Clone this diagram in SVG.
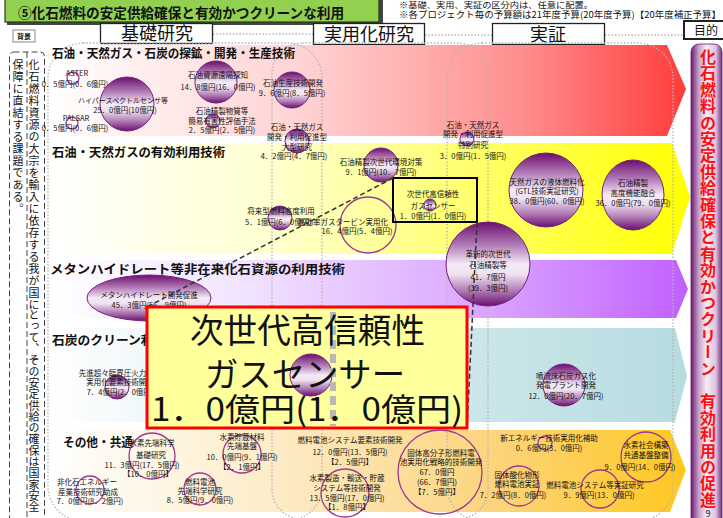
<svg xmlns="http://www.w3.org/2000/svg" width="723" height="518" viewBox="0 0 723 518">
<defs>
<style>
text{font-family:"Noto Sans CJK JP","Noto Sans",sans-serif;fill:#111}
.t{font-size:7.5px;text-anchor:middle}
.ts{font-size:7.5px}
.h{font-size:12.5px;font-weight:700}
.hd{font-size:18px;text-anchor:middle}
.b{fill:url(#gB);stroke:#74207a;stroke-width:1}
.o{fill:none;stroke:#9a3a90;stroke-width:1.3}
.reg{fill:none;stroke:#b4b4b4;stroke-width:1.3;stroke-dasharray:1.5 1.8}
.hbox{fill:#fff;stroke:#222;stroke-width:1.3}
.v{writing-mode:vertical-rl;font-size:11px}
</style>
<linearGradient id="gRed" x1="0" y1="0" x2="1" y2="0"><stop offset="0" stop-color="#ffffff"/><stop offset="0.4" stop-color="#ffd2d2"/><stop offset="0.75" stop-color="#ff8c8c"/><stop offset="1" stop-color="#ff3c3c"/></linearGradient>
<linearGradient id="gYel" x1="0" y1="0" x2="1" y2="0"><stop offset="0" stop-color="#ffffff"/><stop offset="0.35" stop-color="#ffffd0"/><stop offset="0.65" stop-color="#ffff70"/><stop offset="1" stop-color="#ffff00"/></linearGradient>
<linearGradient id="gPur" x1="0" y1="0" x2="1" y2="0"><stop offset="0" stop-color="#ffffff"/><stop offset="0.3" stop-color="#f2e4ff"/><stop offset="0.7" stop-color="#d9a2ff"/><stop offset="1" stop-color="#c060ff"/></linearGradient>
<linearGradient id="gCya" x1="0" y1="0" x2="1" y2="0"><stop offset="0" stop-color="#ffffff"/><stop offset="0.3" stop-color="#e3f1f3"/><stop offset="1" stop-color="#b6dce0"/></linearGradient>
<linearGradient id="gOra" x1="0" y1="0" x2="1" y2="0"><stop offset="0" stop-color="#ffffff"/><stop offset="0.35" stop-color="#fdecc8"/><stop offset="0.7" stop-color="#fcd47c"/><stop offset="1" stop-color="#ffc81e"/></linearGradient>
<linearGradient id="gB" x1="0" y1="0" x2="0" y2="1"><stop offset="0" stop-color="#6a0f6e"/><stop offset="0.28" stop-color="#b47eb8"/><stop offset="0.5" stop-color="#f4eaf5"/><stop offset="0.62" stop-color="#efe2f0"/><stop offset="0.82" stop-color="#b07ab4"/><stop offset="1" stop-color="#6a0f6e"/></linearGradient>
<linearGradient id="gBar" x1="0" y1="0" x2="1" y2="0"><stop offset="0" stop-color="#6a1b6e"/><stop offset="0.25" stop-color="#c8a0cc"/><stop offset="0.5" stop-color="#f5ecf6"/><stop offset="0.8" stop-color="#dcc3de"/><stop offset="1" stop-color="#7a2a7e"/></linearGradient>
</defs>
<rect width="723" height="518" fill="#fff"/>

<g id="banner">
<rect x="7" y="-5" width="376" height="30" fill="#444"/>
<rect x="5" y="-5" width="374" height="27" fill="#92d050" stroke="#2b3a1a" stroke-width="1.2"/>
<text x="18" y="17.5" style="font-size:14px;font-weight:700" textLength="326" lengthAdjust="spacingAndGlyphs">⑤化石燃料の安定供給確保と有効かつクリーンな利用</text>
</g>
<g id="notes">
<text x="399" y="7.5" style="font-size:8.5px" textLength="194" lengthAdjust="spacingAndGlyphs">※基礎、実用、実証の区分内は、任意に配置。</text>
<text x="399" y="18" style="font-size:9px" textLength="322" lengthAdjust="spacingAndGlyphs">※各プロジェクト毎の予算額は21年度予算(20年度予算)【20年度補正予算】</text>
</g>

<g id="headers">
<line x1="213" y1="34" x2="313" y2="34" class="reg"/>
<line x1="425" y1="35" x2="492" y2="35" class="reg"/>
<line x1="605" y1="35" x2="683" y2="35" class="reg"/>
<g id="h-haikei"><rect x="13" y="30" width="22" height="12" fill="#fff" stroke="#666" stroke-width="0.8"/><text x="24" y="38.5" style="font-size:7px;font-weight:700;text-anchor:middle">背景</text></g>
<g id="h-kiso"><rect x="100.5" y="23.5" width="112" height="20" class="hbox"/><text x="157" y="40" class="hd">基礎研究</text></g>
<g id="h-jitsuyo"><rect x="313.5" y="23.5" width="111" height="21" class="hbox"/><text x="369" y="40.5" class="hd">実用化研究</text></g>
<g id="h-jissho"><rect x="492.5" y="23.5" width="112" height="21" class="hbox"/><text x="548" y="40.5" class="hd">実証</text></g>
<g id="h-mokuteki"><rect x="684" y="21" width="42" height="18" fill="#fff" stroke="#222" stroke-width="2"/><text x="706" y="34.5" style="font-size:12px;text-anchor:middle">目的</text></g>
</g>

<g id="background-text">
<rect x="9.5" y="52" width="35" height="470" rx="4" fill="none" stroke="#444" stroke-width="1" stroke-dasharray="6 3"/>
<line x1="27" y1="52" x2="27" y2="518" stroke="#444" stroke-width="1" stroke-dasharray="6 3"/>
<text x="34" y="59.5" class="v" style="letter-spacing:1px">化石燃料資源の大宗を輸入に依存する我が国に</text>
<text x="34" y="309.5" class="v" style="letter-spacing:0.3px">とって、その安定供給の確保は国家安全</text>
<text x="18" y="59.5" class="v" style="letter-spacing:1px">保障に直結する課題である。</text>
</g>

<g id="bands">
<path d="M50,45 H667 L686,89 L667,136 H50 Z" fill="url(#gRed)"/>
<path d="M50,143 H672 L690,197 L672,254 H50 Z" fill="url(#gYel)"/>
<path d="M50,260 H676 L688,289 L676,318 H50 Z" fill="url(#gPur)"/>
<path d="M50,328 H675 L687,376 L675,422 H50 Z" fill="url(#gCya)"/>
<path d="M50,430 H670 L686,470 L670,512 H50 Z" fill="url(#gOra)"/>
</g>

<g id="regions">
<rect x="48" y="43" width="274" height="478" rx="35" class="reg"/>
<rect x="272" y="43" width="216" height="476" rx="30" class="reg"/>
<rect x="447" y="43" width="226" height="478" rx="35" class="reg"/>
</g>

<g id="titles">
<text x="52" y="58" class="h" textLength="243" lengthAdjust="spacingAndGlyphs">石油・天然ガス・石炭の探鉱・開発・生産技術</text>
<text x="52" y="157" class="h" textLength="173" lengthAdjust="spacingAndGlyphs">石油・天然ガスの有効利用技術</text>
<text x="50" y="274" class="h" textLength="295" lengthAdjust="spacingAndGlyphs">メタンハイドレート等非在来化石資源の利用技術</text>
<text x="52" y="345" class="h" textLength="140" lengthAdjust="spacingAndGlyphs">石炭のクリーン利用技術</text>
<text x="63" y="447" class="h" textLength="70" lengthAdjust="spacingAndGlyphs">その他・共通</text>
</g>

<g id="n-aster"><circle cx="73" cy="78" r="6" class="o"/><text x="77" y="76" class="t">ASTER</text><text x="75" y="87" class="t">0．5億円(0．6億円)</text></g>
<g id="n-hyper"><circle cx="127" cy="104" r="27" class="b"/><text x="123" y="103" class="t" style="font-size:7px">ハイパースペクトルセンサ等</text><text x="125" y="113" class="t">25．0億円(10億円)</text></g>
<g id="n-palsar"><circle cx="72" cy="123" r="6" class="o"/><text x="76" y="121" class="t">PALSAR</text><text x="75" y="131" class="t">0．5億円(0．6億円)</text></g>
<g id="n-enkaku"><circle cx="216" cy="82" r="21" class="b"/><text x="218" y="78" class="t">石油資源遠隔探知</text><text x="218" y="90" class="t">14．8億円(16．0億円)</text></g>
<g id="n-seisan"><circle cx="292" cy="90" r="18" class="b"/><text x="293" y="86" class="t">石油生産技術開発</text><text x="292" y="96" class="t">9．6億円(8．5億円)</text></g>
<g id="n-yugai"><circle cx="213" cy="121" r="7" class="b"/><text x="222" y="114" class="t">石油精製物質等</text><text x="222" y="124" class="t">簡易有害性評価手法</text><text x="222" y="133" class="t">2．5億円(2．5億円)</text></g>
<g id="n-ogata"><circle cx="297" cy="141" r="12" class="b"/><text x="297" y="130" class="t">石油・天然ガス</text><text x="297" y="140" class="t">開発・利用促進型</text><text x="297" y="150" class="t">大型研究</text><text x="294" y="159" class="t">4．2億円(4．7億円)</text></g>
<g id="n-tokubetsu"><circle cx="467" cy="139" r="7" class="b"/><text x="473" y="128" class="t">石油・天然ガス</text><text x="473" y="137" class="t">開発・利用促進型</text><text x="473" y="148" class="t">特別研究</text><text x="473" y="159" class="t">3．0億円(1．5億円)</text></g>

<g id="n-kankyo"><circle cx="381" cy="165" r="17" class="b"/><text x="381" y="165" class="t">石油精製次世代環境対策</text><text x="381" y="175" class="t">9．1億円(10．7億円)</text></g>
<g id="n-sensor-small"><circle cx="430" cy="205" r="6" class="b"/><text x="433" y="197" class="t">次世代高信頼性</text><text x="433" y="209" class="t">ガスセンサー</text><text x="433" y="219" class="t">1．0億円(1．0億円)</text></g>
<g id="n-shorai"><circle cx="280" cy="218" r="12" class="b"/><text x="281" y="214" class="t">将来型燃料高度利用</text><text x="245" y="225" class="ts">5．1億円(6．0億円)</text></g>
<g id="n-gasturbine"><circle cx="368" cy="225" r="28" class="o"/><text x="298" y="225" class="ts">高効率ガスタービン実用化</text><text x="357" y="234" class="t">16．4億円(5．4億円)</text></g>
<g id="n-gtl"><circle cx="546" cy="190" r="37" class="b"/><text x="547" y="185" class="t">天然ガスの液体燃料化</text><text x="547" y="194" class="t">(GTL技術実証研究)</text><text x="547" y="204" class="t">38．0億円(60．0億円)</text></g>
<g id="n-yugo"><ellipse cx="633" cy="195" rx="31" ry="35" class="b"/><text x="633" y="186" class="t">石油精製</text><text x="633" y="196" class="t">高度機能融合</text><text x="633" y="206" class="t">36．0億円(79．0億円)</text></g>
<g id="n-kakushin"><circle cx="488" cy="264" r="42" class="b"/><text x="488" y="257" class="t">革新的次世代</text><text x="488" y="268" class="t">石油精製等</text><text x="488" y="280" class="t">41．7億円</text><text x="488" y="291" class="t">(39．3億円)</text></g>

<g id="n-methane"><ellipse cx="149" cy="298" rx="62" ry="23" class="b"/><text x="149" y="298" class="t">メタンハイドレート開発促進</text><text x="149" y="308" class="t">45．3億円(56．9億円)</text></g>

<g id="n-funryu"><circle cx="564" cy="385" r="21" class="b"/><text x="566" y="379" class="t">噴流床石炭ガス化</text><text x="566" y="388" class="t">発電プラント開発</text><text x="566" y="399" class="t">12．0億円(20．7億円)</text></g>
<g id="n-usc"><circle cx="117" cy="387" r="12" class="b"/><text x="120" y="376" class="t">先進超々臨界圧火力発電</text><text x="120" y="385" class="t">実用化要素技術開発</text><text x="120" y="395" class="t">7．4億円(2．0億円)</text></g>

<g id="n-h2sentan"><circle cx="152" cy="456" r="23" class="o"/><text x="152" y="446" class="t">水素先端科学</text><text x="151" y="458" class="t">基礎研究</text><text x="142" y="468" class="t">11．3億円(17．5億円)</text><text x="148" y="477" class="t">【10．0億円】</text></g>
<g id="n-chozo"><circle cx="242" cy="454" r="19" class="o"/><text x="242" y="440" class="t">水素貯蔵材料</text><text x="242" y="449" class="t">先端基盤</text><text x="242" y="460" class="t">10．0億円(9．1億円)</text><text x="242" y="470" class="t">【2．1億円】</text></g>
<g id="n-fcsentan"><circle cx="200" cy="489" r="16" class="o"/><text x="200" y="485" class="t">燃料電池</text><text x="200" y="494" class="t">先端科学研究</text><text x="200" y="503" class="t">8．5億円(9．0億円)</text></g>
<g id="n-hikaseki"><circle cx="90" cy="490" r="14" class="o"/><text x="87" y="485" class="t">非化石エネルギー</text><text x="88" y="495" class="t">産業技術研究助成</text><text x="90" y="504" class="t">7．0億円(8．2億円)</text></g>
<g id="n-sofc-yoso"><text x="350" y="443" class="t">燃料電池システム要素技術開発</text><text x="350" y="455" class="t">12．0億円(13．5億円)</text><text x="350" y="465" class="t">【2．5億円】</text></g>
<g id="n-h2seizo"><circle cx="345" cy="493" r="24" class="o"/><text x="347" y="481" class="t">水素製造・輸送・貯蔵</text><text x="347" y="491" class="t">システム等技術開発</text><text x="347" y="501" class="t">13．5億円(17．0億円)</text><text x="347" y="510" class="t">【1．8億円】</text></g>
<g id="n-pefc"><circle cx="440" cy="472" r="42" class="o"/><text x="441" y="456" class="t">固体高分子形燃料電</text><text x="441" y="465" class="t">池実用化戦略的技術開発</text><text x="437" y="475" class="t">67．0億円</text><text x="437" y="485" class="t">(66．7億円)</text><text x="437" y="495" class="t">【7．5億円】</text></g>
<g id="n-shinene"><circle cx="545" cy="443" r="7" class="o"/><text x="549" y="441" class="t">新エネルギー技術実用化補助</text><text x="549" y="451" class="t">0．6億円(3．0億円)</text></g>
<g id="n-h2shakai"><circle cx="646" cy="457" r="25" class="o"/><text x="646" y="448" class="t">水素社会構築</text><text x="646" y="458" class="t">共通基盤整備</text><text x="640" y="470" class="t">9．0億円(14．0億円)</text></g>
<g id="n-sofc-jissho"><circle cx="519" cy="486" r="20" class="o"/><text x="517" y="478" class="t">固体酸化物形</text><text x="517" y="487" class="t">燃料電池実証</text><text x="513" y="498" class="t">7．2億円(8．0億円)</text></g>
<g id="n-fcsys"><circle cx="600" cy="489" r="19" class="o"/><text x="595" y="488" class="t">燃料電池システム等実証研究</text><text x="599" y="498" class="t">9．9億円(13．0億円)</text></g>

<g id="goal">
<rect x="691" y="44" width="31" height="482" rx="8" fill="url(#gBar)" stroke="#6a1b6e" stroke-width="0.8"/>
<text x="708" y="49" style="writing-mode:vertical-rl;font-size:16px;font-weight:700;fill:#ff1010;letter-spacing:0.4px">化石燃料の安定供給確保と有効かつクリーン　有効利用の促進</text>
<text x="708" y="517" style="font-size:9px;text-anchor:middle">9</text>
</g>

<g id="connectors">
<rect x="393" y="178" width="84" height="44" fill="none" stroke="#000" stroke-width="2"/>
<line x1="393" y1="178" x2="147" y2="307" stroke="#333" stroke-width="1.5" stroke-dasharray="5 3"/>
<line x1="477" y1="222" x2="467" y2="428" stroke="#333" stroke-width="1.5" stroke-dasharray="5 3"/>
</g>

<g id="zoom-box">
<rect x="147" y="307" width="320" height="121" fill="#ffff9c" stroke="#ff0000" stroke-width="3"/>
<circle cx="311" cy="375" r="21" class="b"/>
<line x1="333" y1="312" x2="333" y2="426" stroke="#b8b8b8" stroke-width="6" stroke-dasharray="9 5"/>
<text x="190" y="343" style="font-size:34px" textLength="235" lengthAdjust="spacingAndGlyphs">次世代高信頼性</text>
<text x="205" y="387" style="font-size:34px" textLength="200" lengthAdjust="spacingAndGlyphs">ガスセンサー</text>
<text x="151" y="421" style="font-size:32px" textLength="312" lengthAdjust="spacingAndGlyphs">1．0億円(1．0億円)</text>
</g>
</svg>
